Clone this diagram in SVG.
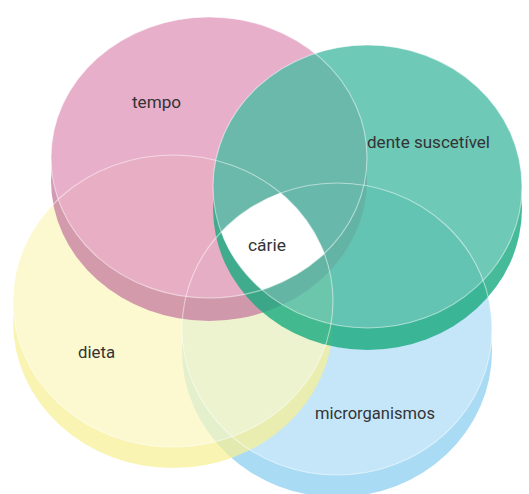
<svg xmlns="http://www.w3.org/2000/svg" width="529" height="494" viewBox="0 0 529 494">
  <style>
    .lbl { font-family: Roboto, "Liberation Sans Narrow", "Liberation Sans", sans-serif; font-size: 17px; font-weight: 400; fill: #333336; }
    .edge { fill: none; stroke: #ffffff; stroke-width: 1.1; stroke-opacity: 0.5; }
  </style>
  <defs>
    <clipPath id="clipB"><ellipse cx="337" cy="329" rx="155" ry="146"/></clipPath>
    <clipPath id="clipY"><ellipse cx="173" cy="301" rx="160" ry="146"/></clipPath>
    <clipPath id="clipP"><ellipse cx="209" cy="157.5" rx="158" ry="140.5"/></clipPath>
    <clipPath id="clipG"><ellipse cx="367.5" cy="186.5" rx="154.5" ry="141.5"/></clipPath>
  </defs>
  <rect width="529" height="494" fill="#ffffff"/>

  <g id="node-microrganismos">
    <ellipse cx="337" cy="351" rx="155" ry="146" fill="#a9dbf4"/>
    <ellipse cx="337" cy="329" rx="155" ry="146" fill="#c4e6f8"/>
  </g>

  <g id="node-dieta" opacity="0.72">
    <ellipse cx="173" cy="322" rx="160" ry="146" fill="#f9f195"/>
    <ellipse cx="173" cy="301" rx="160" ry="146" fill="#fcf8be"/>
  </g>

  <g id="node-tempo" opacity="0.85">
    <ellipse cx="209" cy="180.5" rx="158" ry="140.5" fill="#cc8aa6"/>
    <ellipse cx="209" cy="157.5" rx="158" ry="140.5" fill="#e5a2c3"/>
  </g>

  <g id="node-dente" opacity="0.8">
    <ellipse cx="367.5" cy="208.5" rx="154.5" ry="141.5" fill="#18ab80"/>
    <ellipse cx="367.5" cy="186.5" rx="154.5" ry="141.5" fill="#4bbca4"/>
  </g>

  <g id="node-carie">
    <g clip-path="url(#clipB)">
      <g clip-path="url(#clipY)">
        <g clip-path="url(#clipP)">
          <rect x="150" y="120" width="250" height="250" fill="#ffffff" clip-path="url(#clipG)"/>
        </g>
      </g>
    </g>
  </g>

  <g id="outlines">
    <ellipse class="edge" cx="337" cy="329" rx="155" ry="146"/>
    <ellipse class="edge" cx="173" cy="301" rx="160" ry="146"/>
    <ellipse class="edge" cx="209" cy="157.5" rx="158" ry="140.5"/>
    <ellipse class="edge" cx="367.5" cy="186.5" rx="154.5" ry="141.5"/>
  </g>

  <g id="labels">
    <text class="lbl" x="132" y="108" textLength="49" lengthAdjust="spacingAndGlyphs">tempo</text>
    <text class="lbl" x="367" y="148" textLength="123" lengthAdjust="spacingAndGlyphs">dente suscetível</text>
    <text class="lbl" x="248" y="251" textLength="38" lengthAdjust="spacingAndGlyphs">cárie</text>
    <text class="lbl" x="78" y="358" textLength="37" lengthAdjust="spacingAndGlyphs">dieta</text>
    <text class="lbl" x="315" y="419" textLength="120" lengthAdjust="spacingAndGlyphs">microrganismos</text>
  </g>
</svg>
